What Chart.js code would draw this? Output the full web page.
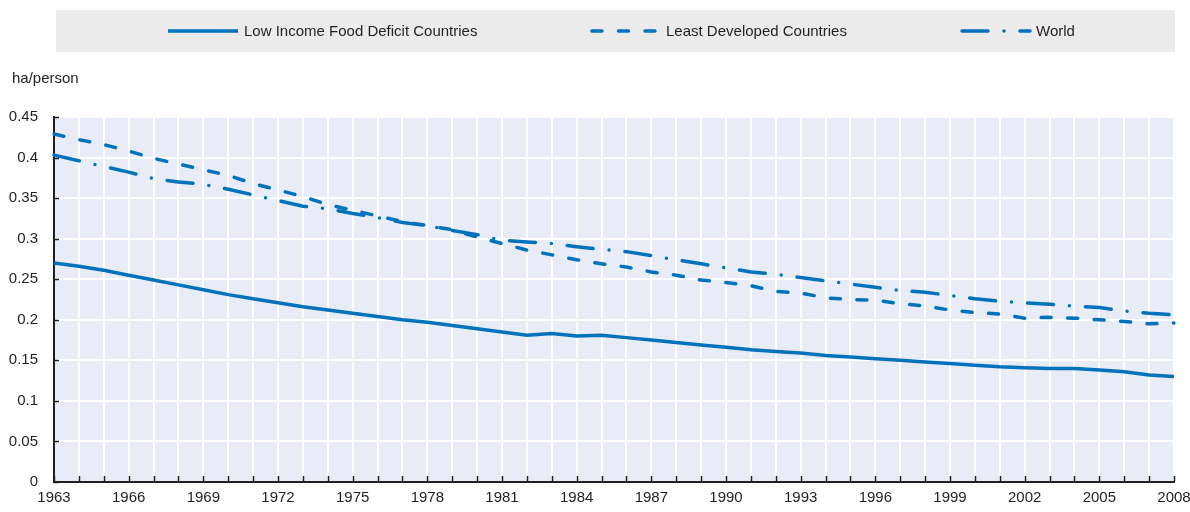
<!DOCTYPE html>
<html>
<head>
<meta charset="utf-8">
<script src="https://cdn.jsdelivr.net/npm/chart.js@4/dist/chart.umd.min.js"></script>
<style>
  body { margin: 0; background: #fff; }
  #wrap { width: 1190px; height: 512px; }
</style>
</head>
<body>
<div id="wrap"><canvas id="grafico" width="1190" height="512"></canvas></div>
<script>
// --- datos (ha/person) ---
const years = [];
for (let y = 1963; y <= 2008; y++) years.push(y);

const lifdc = [0.270, 0.266, 0.261, 0.255, 0.249, 0.243, 0.237, 0.231, 0.226, 0.221,
  0.216, 0.212, 0.208, 0.204, 0.200, 0.197, 0.193, 0.189, 0.185, 0.181,
  0.183, 0.180, 0.181, 0.178, 0.175, 0.172, 0.169, 0.166, 0.163, 0.161,
  0.159, 0.156, 0.154, 0.152, 0.150, 0.148, 0.146, 0.144, 0.142, 0.141,
  0.140, 0.140, 0.138, 0.136, 0.132, 0.130];

const ldc = [0.429, 0.422, 0.416, 0.408, 0.399, 0.392, 0.385, 0.378, 0.368, 0.360,
  0.352, 0.342, 0.335, 0.328, 0.321, 0.316, 0.311, 0.302, 0.294, 0.286,
  0.280, 0.274, 0.269, 0.265, 0.259, 0.255, 0.249, 0.246, 0.242, 0.235,
  0.233, 0.227, 0.225, 0.224, 0.220, 0.217, 0.212, 0.209, 0.207, 0.202,
  0.203, 0.202, 0.200, 0.198, 0.195, 0.196];

const world = [0.403, 0.396, 0.389, 0.382, 0.374, 0.370, 0.367, 0.361, 0.354, 0.347,
  0.340, 0.337, 0.331, 0.326, 0.320, 0.316, 0.310, 0.305, 0.298, 0.296,
  0.294, 0.290, 0.287, 0.284, 0.279, 0.274, 0.269, 0.264, 0.259, 0.256,
  0.252, 0.248, 0.244, 0.240, 0.236, 0.234, 0.230, 0.226, 0.223, 0.221,
  0.219, 0.217, 0.215, 0.211, 0.208, 0.206];

const seriesNames = ['Low Income Food Deficit Countries', 'Least Developed Countries', 'World'];
const unitLabel = 'ha/person';

const AZUL = '#0072bc';
const TEXTO = '#231f20';
const FUENTE = '"Liberation Sans", Arial, sans-serif';

// fondo del area, leyenda propia, titulo del eje y marcas interiores
const decoracion = {
  id: 'decoracion',
  beforeDraw(chart) {
    const { ctx, chartArea: a } = chart;
    ctx.save();
    ctx.fillStyle = '#e8ecf6';
    ctx.fillRect(a.left, a.top, a.right - a.left, a.bottom - a.top);
    ctx.restore();
  },
  afterDraw(chart) {
    const { ctx, chartArea: a, scales } = chart;
    ctx.save();
    // marcas hacia adentro
    ctx.strokeStyle = TEXTO;
    ctx.lineWidth = 1.5;
    scales.y.ticks.forEach(t => {
      const py = Math.round(scales.y.getPixelForValue(t.value)) + 0.5;
      ctx.beginPath(); ctx.moveTo(a.left, py); ctx.lineTo(a.left + 5, py); ctx.stroke();
    });
    years.forEach((yr, i) => {
      const px = Math.round(scales.x.getPixelForValue(i)) + 0.5;
      ctx.beginPath(); ctx.moveTo(px, a.bottom - 1); ctx.lineTo(px, a.bottom - 6); ctx.stroke();
    });

    // leyenda
    ctx.fillStyle = '#ebebeb';
    ctx.fillRect(56, 10, 1119, 42);
    const posX = [168, 590, 960];
    ctx.font = '15px ' + FUENTE;
    ctx.textBaseline = 'middle';
    chart.data.datasets.forEach((ds, i) => {
      ctx.strokeStyle = ds.borderColor;
      ctx.lineWidth = ds.borderWidth;
      ctx.lineCap = ds.borderCapStyle || 'butt';
      ctx.setLineDash(ds.borderDash || []);
      ctx.beginPath();
      ctx.moveTo(posX[i] + (ds.borderDash ? 2 : 0), 31);
      ctx.lineTo(posX[i] + 70, 31);
      ctx.stroke();
      ctx.setLineDash([]);
      ctx.fillStyle = TEXTO;
      ctx.fillText(ds.label, posX[i] + 76, 32);
    });

    // unidad
    ctx.fillStyle = TEXTO;
    ctx.textBaseline = 'middle';
    ctx.fillText(unitLabel, 12, 79);
    ctx.restore();
  }
};

new Chart(document.getElementById('grafico'), {
  type: 'line',
  data: {
    labels: years,
    datasets: [
      { label: seriesNames[0], data: lifdc, borderColor: AZUL, borderWidth: 3.5 },
      { label: seriesNames[1], data: ldc, borderColor: AZUL, borderWidth: 3.5,
        borderDash: [10, 16.5], borderCapStyle: 'round' },
      { label: seriesNames[2], data: world, borderColor: AZUL, borderWidth: 3.5,
        borderDash: [26, 16, 0, 16], borderCapStyle: 'round' }
    ]
  },
  options: {
    responsive: false,
    animation: false,
    devicePixelRatio: 1,
    layout: { padding: { top: 117, right: 16, left: 0, bottom: 0 } },
    elements: { point: { radius: 0 }, line: { tension: 0, fill: false } },
    plugins: { legend: { display: false }, tooltip: { enabled: false } },
    scales: {
      x: {
        type: 'category',
        offset: false,
        afterFit: s => { s.height = 30; s.paddingRight = 0; s.paddingLeft = 0; },
        grid: { color: '#ffffff', lineWidth: 2, drawTicks: false },
        border: { color: TEXTO, width: 2 },
        ticks: {
          autoSkip: false, maxRotation: 0, padding: 7,
          color: TEXTO, font: { family: FUENTE, size: 15 },
          callback: (v, i) => ((years[i] - 1963) % 3 === 0 ? String(years[i]) : '')
        }
      },
      y: {
        min: 0, max: 0.45,
        afterFit: s => { s.width = 54; },
        grid: { color: '#ffffff', lineWidth: 2, drawTicks: false },
        border: { color: TEXTO, width: 2 },
        ticks: {
          stepSize: 0.05, padding: 16,
          color: TEXTO, font: { family: FUENTE, size: 15 },
          callback: v => String(+v.toFixed(2))
        }
      }
    }
  },
  plugins: [decoracion]
});
</script>
</body>
</html>
